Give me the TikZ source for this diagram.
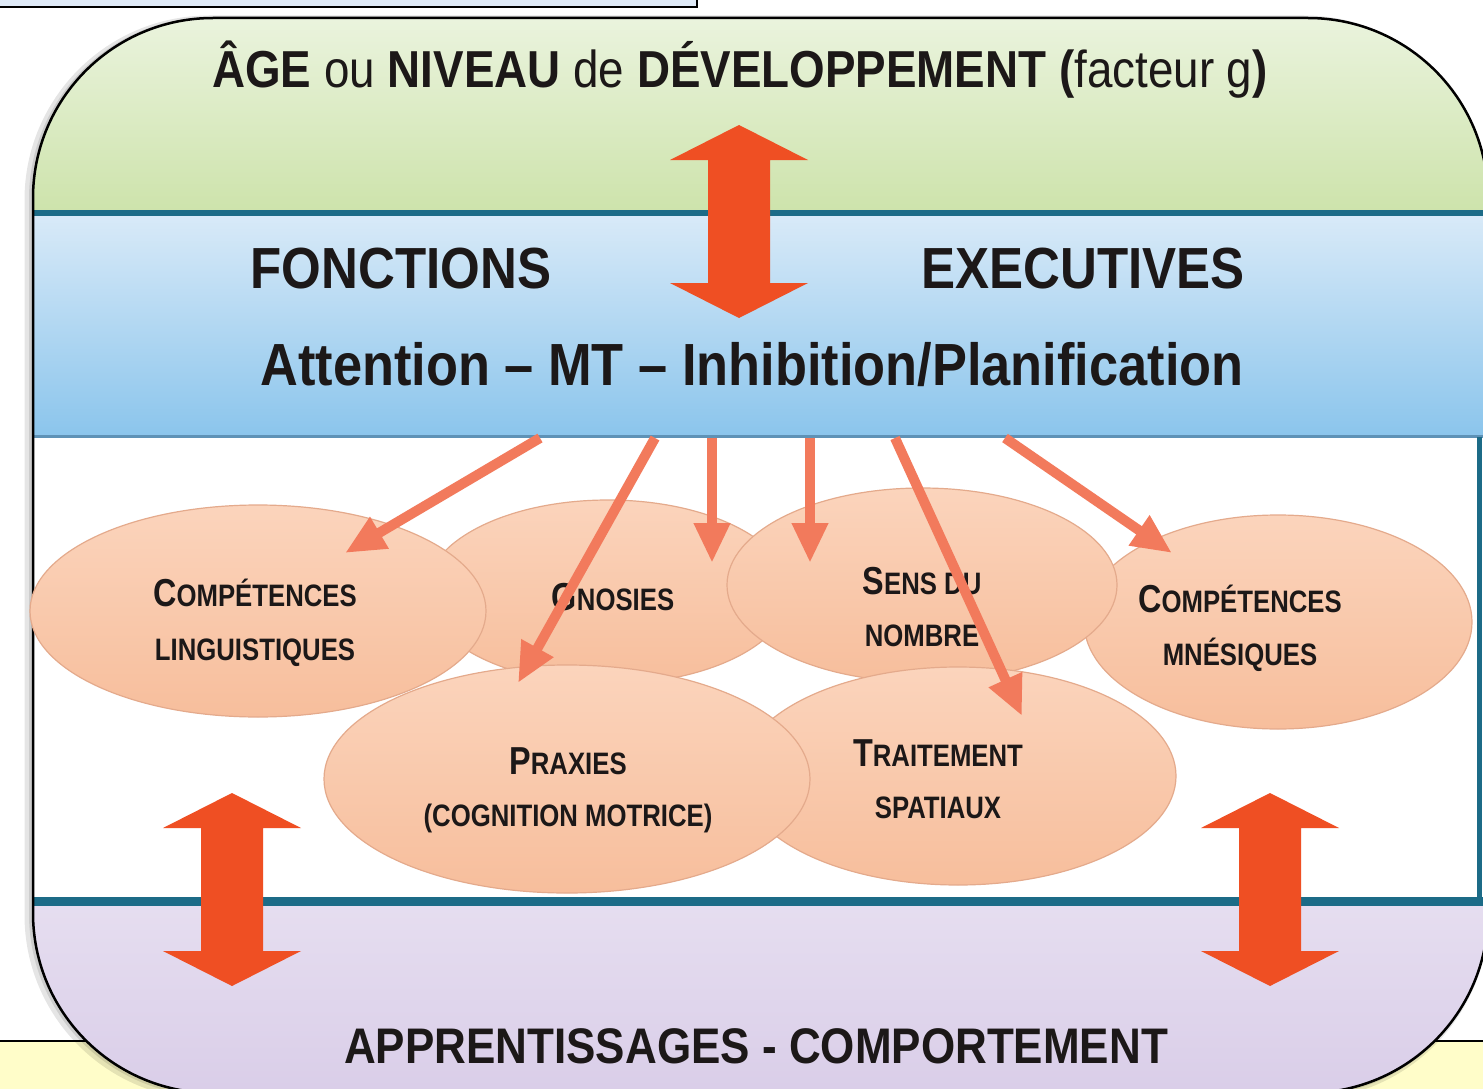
\documentclass[tikz,border=0pt]{standalone}
\usepackage{fontspec}
\setmainfont{Liberation Sans}
\newfontfamily\hdfont[FakeStretch=0.88]{Liberation Sans}
\newfontfamily\elfont[FakeStretch=0.83]{Liberation Sans}
\usetikzlibrary{arrows.meta,shapes.geometric}
\definecolor{grnT}{HTML}{EDF5E2}
\definecolor{grnB}{HTML}{CDE3AB}
\definecolor{bluT}{HTML}{D9EAF8}
\definecolor{bluB}{HTML}{8BC5EC}
\definecolor{lavT}{HTML}{E6DEF0}
\definecolor{lavB}{HTML}{D9CDE8}
\definecolor{tealL}{HTML}{1C6B87}
\definecolor{bandedge}{HTML}{5E92B6}
\definecolor{bigor}{HTML}{EF4F23}
\definecolor{thinor}{HTML}{F27A5C}
\definecolor{pchT}{HTML}{FBD4BC}
\definecolor{pchB}{HTML}{F7BE9C}
\definecolor{pchE}{HTML}{E4AA8C}
\definecolor{txt}{HTML}{1C1818}
\definecolor{ylw}{HTML}{FFFDC9}
\definecolor{boxb}{HTML}{DFEAF7}
\newcommand{\Bg}[1]{{\fontsize{39}{39}\selectfont #1}}
\begin{document}
\begin{tikzpicture}[x=1pt,y=-1pt,
  ell/.style={ellipse,draw=pchE,line width=1.2pt,top color=pchT,bottom color=pchB,inner sep=0pt},
  eltext/.style={anchor=base,text=txt,inner sep=0pt,font=\elfont\bfseries\fontsize{31}{31}\selectfont},
  hdtext/.style={anchor=base,text=txt,inner sep=0pt},
  thinarrow/.style={draw=thinor,line width=10pt,-{Triangle[length=40pt,width=34pt]}},
  bigarrow/.style={fill=bigor},
  dblarrow/.pic={\fill[bigarrow] (0,0) -- (69,35) -- (31,35) -- (31,158) -- (69,158) -- (0,193) -- (-69,158) -- (-31,158) -- (-31,35) -- (-69,35) -- cycle;}
]
\useasboundingbox (0,0) rectangle (1483,1089);
\fill[white] (0,0) rectangle (1483,1089);
% top-left box
\filldraw[fill=boxb,draw=black,line width=2pt] (-10,-10) rectangle (697,7);
% bottom yellow strip
\filldraw[fill=ylw,draw=black,line width=2pt] (-10,1041) rectangle (1493,1100);
% soft shadow
\draw[black,opacity=0.10,line width=9pt,rounded corners=180pt] (29,550) -- (29,20) -- (1484,20) -- (1484,1095) -- (29,1095) -- cycle;
\draw[black,opacity=0.10,line width=4pt,rounded corners=180pt] (31,550) -- (31,19) -- (1486,19) -- (1486,1094) -- (31,1094) -- cycle;
% bands
\begin{scope}
\clip[rounded corners=180pt] (33,550) -- (33,18) -- (1488,18) -- (1488,1093) -- (33,1093) -- cycle;
\fill[top color=grnT,bottom color=grnB] (0,0) rectangle (1500,213);
\fill[top color=bluT,bottom color=bluB] (0,213) rectangle (1500,436);
\fill[white] (0,436) rectangle (1500,900);
\fill[top color=lavT,bottom color=lavB] (0,900) rectangle (1500,1100);
\draw[tealL,line width=6pt] (0,213) -- (1500,213);
\draw[bandedge,line width=3pt] (0,436) -- (1500,436);
\draw[tealL,line width=9pt] (0,901) -- (1500,901);
\draw[tealL,line width=5pt] (1479,437) -- (1479,897);
\end{scope}
\draw[black,line width=2.5pt,rounded corners=180pt] (33,550) -- (33,18) -- (1488,18) -- (1488,1093) -- (33,1093) -- cycle;
% texts of bands
\node[hdtext,font=\hdfont\fontsize{52}{52}\selectfont] (age) at (740,88) {\textbf{ÂGE} ou \textbf{NIVEAU} de \textbf{DÉVELOPPEMENT} \textbf{(}facteur g\textbf{)}};
\node[hdtext,font=\hdfont\bfseries\fontsize{58}{58}\selectfont] (fonc) at (401,288) {FONCTIONS};
\node[hdtext,font=\hdfont\bfseries\fontsize{58}{58}\selectfont] (exec) at (1083,288) {EXECUTIVES};
\node[hdtext,font=\hdfont\bfseries\fontsize{59.5}{60}\selectfont] (att) at (752,385) {Attention – MT – Inhibition/Planification};
\node[hdtext,font=\hdfont\bfseries\fontsize{50}{50}\selectfont] (appr) at (756,1063) {APPRENTISSAGES - COMPORTEMENT};
% big double arrows
\pic at (739,125) {dblarrow};
\pic at (232,793) {dblarrow};
\pic at (1270,793) {dblarrow};
% ellipses
\node[ell,minimum width=364pt,minimum height=184pt] (gno) at (608,592) {};
\node[ell,minimum width=388pt,minimum height=214pt] (cm) at (1278,622) {};
\node[ell,minimum width=390pt,minimum height=194pt] (sdn) at (922,585) {};
\node[ell,minimum width=456pt,minimum height=212pt] (cl) at (258,611) {};
\node[ell,minimum width=436pt,minimum height=218pt] (ts) at (958,776) {};
\node[ell,minimum width=486pt,minimum height=228pt] (pra) at (567,779) {};
% ellipse texts
\node[eltext] (cl1) at (255,606) {\Bg{C}OMPÉTENCES};
\node[eltext] (cl2) at (255,660) {LINGUISTIQUES};
\node[eltext] (gn1) at (613,610) {\Bg{G}NOSIES};
\node[eltext] (sd1) at (922,594) {\Bg{S}ENS DU};
\node[eltext] (sd2) at (922,646) {NOMBRE};
\node[eltext] (cm1) at (1240,612) {\Bg{C}OMPÉTENCES};
\node[eltext] (cm2) at (1240,665) {MNÉSIQUES};
\node[eltext] (pr1) at (568,774) {\Bg{P}RAXIES};
\node[eltext] (pr2) at (568,826) {(COGNITION MOTRICE)};
\node[eltext] (ts1) at (938,766) {\Bg{T}RAITEMENT};
\node[eltext] (ts2) at (938,818) {SPATIAUX};
% thin arrows
\coordinate (s1) at (540,438); \coordinate (t1) at (345,553);
\coordinate (s2) at (655,438); \coordinate (t2) at (518,683);
\coordinate (s3) at (712,438); \coordinate (t3) at (712,563);
\coordinate (s4) at (810,438); \coordinate (t4) at (810,563);
\coordinate (s5) at (895,438); \coordinate (t5) at (1022,716);
\coordinate (s6) at (1005,438); \coordinate (t6) at (1172,553);
\draw[thinarrow] (s1) -- (t1);
\draw[thinarrow] (s2) -- (t2);
\draw[thinarrow] (s3) -- (t3);
\draw[thinarrow] (s4) -- (t4);
\draw[thinarrow] (s5) -- (t5);
\draw[thinarrow] (s6) -- (t6);
\end{tikzpicture}
\end{document}
